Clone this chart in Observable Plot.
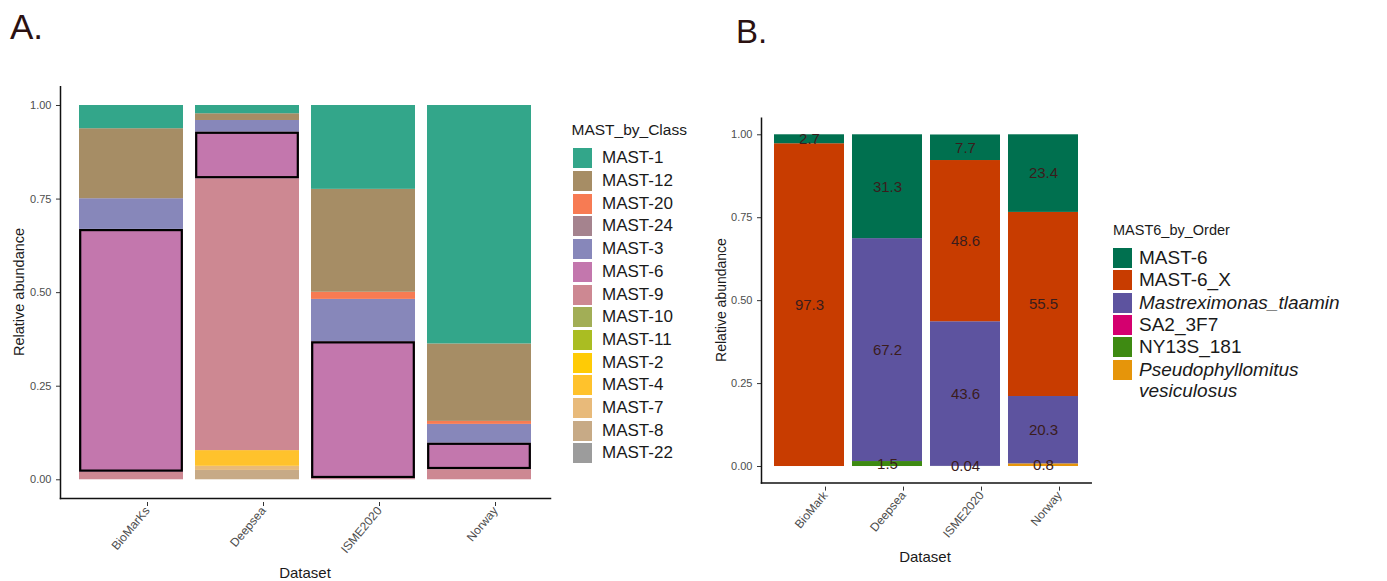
<!DOCTYPE html>
<html><head><meta charset="utf-8">
<script src="https://cdn.jsdelivr.net/npm/d3@7"></script>
<script src="https://cdn.jsdelivr.net/npm/@observablehq/plot@0.6"></script>
<style>
body{margin:0;background:#fff;font-family:"Liberation Sans",Arial,sans-serif;}
#root{position:relative;width:1387px;height:581px;overflow:hidden;background:#fff;}
.abs{position:absolute;white-space:nowrap;line-height:1;}
.plot{position:absolute;}
.key{position:absolute;}
.lab{position:absolute;display:flex;align-items:center;white-space:nowrap;color:#1a1a1a;}
</style></head><body><div id="root"></div>
<script>
// ---------- Panel A data ----------
const datasetsA = ["BioMarKs", "Deepsea", "ISME2020", "Norway"];
const classesA = ["MAST-1","MAST-12","MAST-20","MAST-24","MAST-3","MAST-6","MAST-9","MAST-10","MAST-11","MAST-2","MAST-4","MAST-7","MAST-8","MAST-22"];
const colorsA = ["#33A68A","#A68D65","#F77B53","#A5838E","#8787BA","#C377AD","#CD8892","#A2AE56","#AABD22","#FFCB05","#FFC22C","#E8BA7A","#C7AA86","#9C9C9C"];
// values per class (same order as classesA)
const bioMarKsA = [0.062,0.187,0,0,0.082,0.649,0.020,0,0,0,0,0,0,0];
const deepseaA  = [0.022,0.018,0,0,0.031,0.125,0.726,0,0,0,0.042,0.011,0.025,0];
const isme2020A = [0.224,0.275,0.019,0,0.113,0.366,0.003,0,0,0,0,0,0,0];
const norwayA   = [0.637,0.207,0.008,0,0.050,0.071,0.027,0,0,0,0,0,0,0];
const yTicks = [0, 0.25, 0.5, 0.75, 1];

// ---------- Panel B data ----------
const datasetsB = ["BioMark", "Deepsea", "ISME2020", "Norway"];
const ordersB = ["MAST-6","MAST-6_X","Mastreximonas_tlaamin","SA2_3F7","NY13S_181","Pseudophyllomitus vesiculosus"];
const colorsB = ["#00704F","#C83C00","#5D539F","#D4006F","#3E8A12","#E6950A"];
const italicB = [false,false,true,false,false,true];
const bioMarkB  = [2.7, 97.3, 0, 0, 0, 0];
const deepseaB  = [31.3, 0, 67.2, 0, 1.5, 0];
const isme2020B = [7.7, 48.6, 43.6, 0, 0.04, 0];
const norwayB   = [23.4, 55.5, 20.3, 0, 0, 0.8];

const root = document.getElementById("root");

function tableFrom(datasets, cats, rows, scale) {
  const out = [];
  datasets.forEach((ds, i) => {
    for (let j = cats.length - 1; j >= 0; j--) {
      const v = rows[i][j];
      if (v > 0) out.push({dataset: ds, cat: cats[j], value: v / scale, pct: v});
    }
  });
  return out;
}
const dataA = tableFrom(datasetsA, classesA, [bioMarKsA, deepseaA, isme2020A, norwayA], 1);
const dataB = tableFrom(datasetsB, ordersB, [bioMarkB, deepseaB, isme2020B, norwayB], 100);

function add(el, css) { Object.assign(el.style, css); root.appendChild(el); return el; }
function text(str, css, cls="abs") { const d = document.createElement("div"); d.className = cls; d.textContent = str; return add(d, css); }

// ---------- Plot A ----------
const plotA = Plot.plot({
  width: 560, height: 500,
  marginLeft: 60, marginRight: 10, marginTop: 6.3, marginBottom: 82,
  style: {fontFamily: "Liberation Sans, Arial, sans-serif", background: "transparent"},
  x: {type: "band", domain: datasetsA, paddingInner: 0.1, paddingOuter: 0.15, label: null},
  y: {domain: [-0.05, 1.05], label: null},
  color: {domain: classesA, range: colorsA},
  marks: [
    Plot.barY(dataA, Plot.stackY({x: "dataset", y: "value", fill: "cat"})),
    Plot.barY(dataA, Plot.stackY({x: "dataset", y: "value", fill: "none", stroke: "#000",
      strokeWidth: d => d.cat === "MAST-6" ? 2.2 : 0, inset: 1.2})),
    Plot.axisY({ticks: yTicks, tickFormat: d3.format(".2f"), tickSize: 4, tickPadding: 5, fontSize: 11, stroke: "#333", fill: "#4d4d4d", label: null}),
    Plot.axisX({tickSize: 4, tickRotate: -50, tickPadding: 2, fontSize: 12, stroke: "#333", fill: "#4d4d4d", label: null, dx: 16, dy: 4}),
    Plot.frame({anchor: "left", stroke: "#111", strokeWidth: 1.5}),
    Plot.frame({anchor: "bottom", stroke: "#111", strokeWidth: 1.5})
  ]
});
add(plotA, {position: "absolute", left: "0px", top: "80px"});

// ---------- Plot B ----------
const plotB = Plot.plot({
  width: 400, height: 481,
  marginLeft: 61, marginRight: 9.3, marginTop: 17.7, marginBottom: 98.4,
  style: {fontFamily: "Liberation Sans, Arial, sans-serif", background: "transparent"},
  x: {type: "band", domain: datasetsB, paddingInner: 0.1, paddingOuter: 0.15, label: null},
  y: {domain: [-0.05, 1.05], label: null},
  color: {domain: ordersB, range: colorsB},
  marks: [
    Plot.barY(dataB, Plot.stackY({x: "dataset", y: "value", fill: "cat"})),
    Plot.text(dataB, Plot.stackY({x: "dataset", y: "value", text: d => String(d.pct), fill: "#3a1c1c", fontSize: 15})),
    Plot.axisY({ticks: yTicks, tickFormat: d3.format(".2f"), tickSize: 4, tickPadding: 5, fontSize: 11, stroke: "#333", fill: "#4d4d4d", label: null}),
    Plot.axisX({tickSize: 4, tickRotate: -50, tickPadding: 2, fontSize: 12, stroke: "#333", fill: "#4d4d4d", label: null, dx: 16, dy: 4}),
    Plot.frame({anchor: "left", stroke: "#111", strokeWidth: 1.5}),
    Plot.frame({anchor: "bottom", stroke: "#111", strokeWidth: 1.5})
  ]
});
add(plotB, {position: "absolute", left: "700px", top: "100px"});

// ---------- Titles ----------
text("A.", {left: "10px", top: "8.7px", fontSize: "35px", color: "#2b1111"});
text("B.", {left: "736px", top: "15.4px", fontSize: "33px", color: "#2b1111"});
text("Relative abundance", {left: "18.5px", top: "292px", fontSize: "14.5px", color: "#1a1a1a", transform: "translate(-50%,-50%) rotate(-90deg)"});
text("Dataset", {left: "305px", top: "572px", fontSize: "15px", color: "#1a1a1a", transform: "translate(-50%,-50%)"});
text("Relative abundance", {left: "721px", top: "300px", fontSize: "14px", color: "#1a1a1a", transform: "translate(-50%,-50%) rotate(-90deg)"});
text("Dataset", {left: "925px", top: "556px", fontSize: "15px", color: "#1a1a1a", transform: "translate(-50%,-50%)"});

// ---------- Legend A ----------
text("MAST_by_Class", {left: "571.5px", top: "130px", fontSize: "15.5px", color: "#1a1a1a", transform: "translateY(-50%)"});
classesA.forEach((c, i) => {
  const top = 148.3 + i * 22.7;
  const k = document.createElement("div"); k.className = "key";
  add(k, {left: "573px", top: top + "px", width: "19px", height: "20px", background: colorsA[i]});
  text(c, {left: "602px", top: top + "px", height: "20px", fontSize: "17px"}, "lab");
});

// ---------- Legend B ----------
text("MAST6_by_Order", {left: "1113px", top: "230px", fontSize: "14.5px", color: "#1a1a1a", transform: "translateY(-50%)"});
ordersB.forEach((c, i) => {
  const top = 247.7 + i * 22.4;
  const k = document.createElement("div"); k.className = "key";
  add(k, {left: "1113px", top: top + "px", width: "19px", height: "20px", background: colorsB[i]});
  const lab = document.createElement("div"); lab.className = "abs";
  const parts = c.split(" ");
  parts.forEach((p, j) => {
    const line = document.createElement("div");
    line.textContent = p;
    line.style.height = "21.7px"; line.style.lineHeight = "20px";
    lab.appendChild(line);
  });
  add(lab, {left: "1139px", top: top + "px", fontSize: "19px", color: "#1a1a1a", fontStyle: italicB[i] ? "italic" : "normal"});
});
</script></body></html>
